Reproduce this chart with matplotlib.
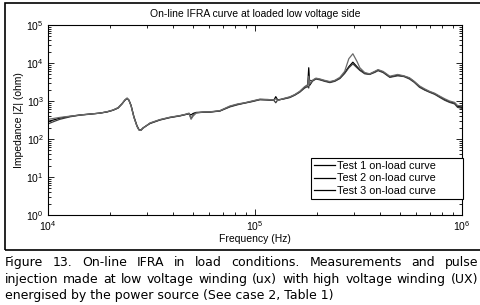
import numpy as np
import matplotlib
matplotlib.use("Agg")
import matplotlib.pyplot as plt
from matplotlib.patches import Rectangle
from matplotlib.ticker import LogLocator, NullFormatter

plt.rcParams['font.family'] = ['Liberation Sans', 'DejaVu Sans']
plt.rcParams['mathtext.default'] = 'regular'

# frequency points (kHz)
freq_khz = [10.0, 10.7, 11.4, 12.8, 14.3, 16.0, 17.8, 19.3, 20.6, 21.8,
            22.8, 23.5, 24.1, 24.6, 25.2, 26.0, 26.9, 27.5, 28.1, 28.8,
            31.1, 34.7, 38.8, 43.4, 45.9, 48.0, 49.1, 50.2, 51.9, 56.1,
            60.6, 67.7, 75.7, 82.6, 89.2, 96.6, 105.6, 115.3, 123.3, 126.0,
            128.9, 137.7, 147.2, 155.6, 164.4, 173.8, 179.8, 181.8, 183.8, 190.6,
            197.0, 206, 217, 230, 243, 257, 271, 284, 297, 311,
            321, 339, 358, 380, 393, 416, 448, 489, 524, 557,
            588, 623, 659, 697, 738, 780, 824, 871, 921, 952, 1000]

# impedance |Z| in ohm
test1 = [290, 320, 355, 395, 430, 455, 480, 520, 575, 660,
         850, 1050, 1180, 1050, 750, 380, 220, 175, 170, 195,
         260, 320, 370, 410, 440, 460, 430, 470, 500, 510,
         515, 550, 720, 820, 890, 980, 1100, 1080, 1050, 1300,
         1050, 1150, 1260, 1450, 1750, 2300, 2700, 7500, 2600, 3500,
         3900, 3700, 3400, 3150, 3400, 4000, 5500, 8000, 10500, 8000,
         6600, 5400, 5100, 5900, 6500, 5800, 4300, 4800, 4500, 4000,
         3200, 2400, 2000, 1750, 1550, 1300, 1100, 950, 880, 720, 700]
test2 = [250, 290, 330, 385, 425, 450, 480, 515, 570, 650,
         840, 1040, 1170, 1060, 770, 390, 225, 178, 172, 197,
         255, 315, 365, 405, 435, 470, 350, 420, 490, 505,
         510, 545, 700, 800, 880, 960, 1080, 1060, 1040, 900,
         1080, 1130, 1230, 1420, 1700, 2200, 2400, 2200, 3500, 3400,
         3800, 3600, 3300, 3050, 3300, 3900, 5300, 7500, 9500, 7500,
         6400, 5200, 5000, 5700, 6300, 5600, 4200, 4600, 4400, 3800,
         3100, 2300, 1950, 1700, 1500, 1250, 1050, 920, 840, 680, 640]
test3 = [330, 350, 370, 400, 430, 455, 480, 525, 580, 670,
         860, 1060, 1190, 1040, 740, 370, 215, 172, 168, 192,
         265, 325, 375, 415, 445, 480, 330, 400, 480, 515,
         520, 560, 740, 840, 900, 1000, 1120, 1100, 1060, 1150,
         1030, 1170, 1290, 1480, 1800, 2400, 2600, 4500, 2800, 3600,
         4000, 3800, 3500, 3250, 3500, 4200, 6000, 13000, 17500, 11000,
         7500, 5600, 5200, 6100, 6700, 6000, 4500, 5000, 4600, 4100,
         3300, 2500, 2100, 1800, 1600, 1350, 1150, 1000, 920, 760, 740]

legend_labels = ['Test 1 on-load curve', 'Test 2 on-load curve', 'Test 3 on-load curve']
title = 'On-line IFRA curve at loaded low voltage side'
caption_lines = ['Figure 13. On-line IFRA in load conditions. Measurements and pulse',
                 'injection made at low voltage winding (ux) with high voltage winding (UX)',
                 'energised by the power source (See case 2, Table 1)']

freq = np.array(freq_khz) * 1000.0

fig = plt.figure(figsize=(4.8, 3.05), dpi=100)
ax = fig.add_axes([0.1, 0.295, 0.8625, 0.623])

ax.plot(freq, test1, color='#000000', lw=0.9, label=legend_labels[0])
ax.plot(freq, test2, color='#3a3a3a', lw=0.9, label=legend_labels[1])
ax.plot(freq, test3, color='#6a6a6a', lw=0.9, label=legend_labels[2])

ax.set_xscale('log')
ax.set_yscale('log')
ax.set_xlim(1e4, 1e6)
ax.set_ylim(1e0, 1e5)
ax.yaxis.set_major_locator(LogLocator(base=10, numticks=10))
ax.yaxis.set_minor_locator(LogLocator(base=10, subs=np.arange(2, 10), numticks=20))
ax.yaxis.set_minor_formatter(NullFormatter())
ax.xaxis.set_minor_formatter(NullFormatter())

ax.tick_params(which='both', direction='in', top=True, right=True, labelsize=7.5, width=0.6)
ax.tick_params(which='major', length=4, pad=3)
ax.tick_params(which='minor', length=2)
for s in ax.spines.values():
    s.set_linewidth(0.8)

ax.set_title(title, fontsize=7.5, pad=6)
ax.set_xlabel('Frequency (Hz)', fontsize=7.5, labelpad=1)
ax.set_ylabel('Impedance |Z| (ohm)', fontsize=7.5, labelpad=2)

# MATLAB style legend: wide empty space right of the labels
pad = '\u00a0' * 8
leg = ax.legend([l + pad for l in legend_labels], loc='lower right',
                bbox_to_anchor=(1.002, 0.085), fontsize=7.8,
                fancybox=False, framealpha=1, edgecolor='black', borderaxespad=0,
                handlelength=1.9, handletextpad=0.2, labelspacing=0.2, borderpad=0.3)
leg.get_frame().set_linewidth(0.8)
for h in leg.get_lines():
    h.set_color('black')

# outer frame round the chart
fig.patches.append(Rectangle((5 / 480, 1 - 250 / 305), 1.0, 247 / 305,
                             transform=fig.transFigure, fill=False,
                             edgecolor='black', lw=1.2, clip_on=False))

# justified caption
renderer = fig.canvas.get_renderer()
left, right = 5 / 480, 478 / 480
cap_kw = dict(fontsize=9.0, family='DejaVu Sans', va='baseline', ha='left')
baselines = [1 - 266 / 305, 1 - 283 / 305, 1 - 299 / 305]
for i, line in enumerate(caption_lines):
    if i == len(caption_lines) - 1:
        fig.text(left, baselines[i], line, **cap_kw)
        continue
    words = line.split(' ')
    widths = []
    for w in words:
        t = fig.text(0, 0, w, **cap_kw)
        bb = t.get_window_extent(renderer)
        widths.append(bb.width / fig.bbox.width)
        t.remove()
    gap = (right - left - sum(widths)) / (len(words) - 1)
    x = left
    for w, wd in zip(words, widths):
        fig.text(x, baselines[i], w, **cap_kw)
        x += wd + gap

fig.savefig('out.png', dpi=100)
